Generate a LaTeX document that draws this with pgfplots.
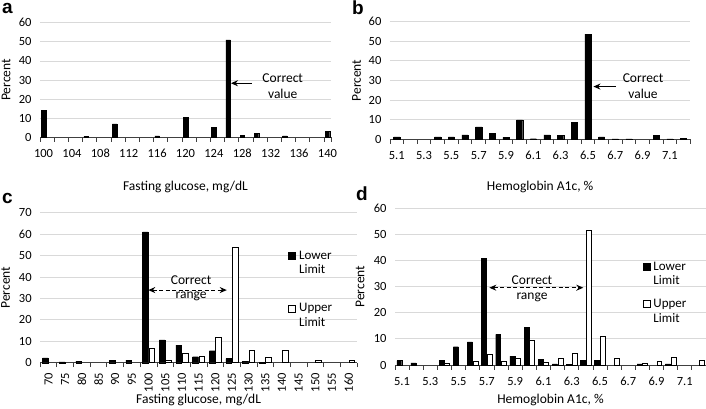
\documentclass[border=0pt]{standalone}
\usepackage{pgfplots}
\pgfplotsset{compat=1.18}
\usepackage{fontspec}
\setmainfont{Carlito}
\newfontfamily\letterfont{Liberation Sans}
\usetikzlibrary{arrows.meta}

\definecolor{gridgray}{HTML}{D9D9D9}
\definecolor{axisgray}{HTML}{404040}

\newcommand{\tickfont}{\fontsize{12.5}{14}\selectfont}
\newcommand{\labfont}{\fontsize{13.5}{14.7}\selectfont}
\newcommand{\legfont}{\fontsize{13}{14.7}\selectfont}
\newcommand{\panfont}{\letterfont\bfseries\fontsize{19}{21}\selectfont}

\tikzset{
  arr/.style={-{Stealth[length=7pt,width=6pt]}, line width=1.2pt},
  darr/.style={{Stealth[length=7pt,width=6pt]}-{Stealth[length=7pt,width=6pt]}, line width=1.1pt, dash pattern=on 4pt off 2.5pt},
}

\pgfplotsset{
  panel/.style={
    scale only axis,
    anchor=south west,
    ybar,
    enlargelimits=false,
    axis x line*=bottom,
    axis y line*=left,
    y axis line style={draw=none},
    x axis line style={-, draw=axisgray, line width=0.8pt},
    ymin=0,
    ymajorgrids,
    major grid style={draw=gridgray, line width=0.8pt},
    ytick style={draw=none},
    major tick length=0pt,
    minor tick length=4.5pt,
    xtick align=outside,
    minor x tick style={draw=axisgray, line width=0.8pt},
    tick label style={font=\tickfont},
    label style={font=\labfont},
    /pgf/number format/assume math mode=true,
    yticklabel shift=5pt,
    ylabel={Percent},
    ylabel style={anchor=center},
    xlabel style={anchor=center},
    clip=false,
  },
  blackbar/.style={fill=black, draw=black, line width=0.4pt},
  whitebar/.style={fill=white, draw=black, line width=0.7pt},
  sqlegend/.style={legend image code/.code={\draw[##1, line width=0.7pt] (0pt,3.8pt) rectangle (7pt,10.8pt);}},
}

\begin{document}
\begin{tikzpicture}
\useasboundingbox (0,0) rectangle (706pt,-409pt);

% ---------------- panel a ----------------
\node[anchor=base west, font=\panfont, inner sep=0pt] at (2pt,-14pt) {a};
\begin{axis}[panel,
  at={(40pt,-137.3pt)}, width=291pt, height=114.6pt,
  xmin=-0.5, xmax=40.5, ymax=60, ytick={0,10,...,60},
  xtick={0,4,...,40},
  xticklabels={100,104,108,112,116,120,124,128,132,136,140},
  minor xtick={-0.5,1.5,3.5,5.5,7.5,9.5,11.5,13.5,15.5,17.5,19.5,21.5,23.5,25.5,27.5,29.5,31.5,33.5,35.5,37.5,39.5,40.5},
  xticklabel shift=8.5pt,
  bar width=0.64,
  xlabel={Fasting glucose, mg/dL},
  xlabel style={at={(rel axis cs:0.5,-0.432)}},
  ylabel style={at={(rel axis cs:-0.1168,0.5)}},
]
\addplot[blackbar] coordinates {(0,14) (6,0.5) (10,7) (16,0.8) (20,10.5) (24,5.2) (26,51) (28,1.2) (30,2.2) (34,0.8) (40,3)};
\draw[arr] (axis cs:29.3,28.3) -- (axis cs:26.4,28.3);
\node[font=\labfont] at (axis cs:33.7,31.2) {Correct};
\node[font=\labfont] at (axis cs:33.7,22.7) {value};
\end{axis}

% ---------------- panel b ----------------
\node[anchor=base west, font=\panfont, inner sep=0pt] at (352pt,-15pt) {b};
\begin{axis}[panel,
  at={(389.9pt,-139.3pt)}, width=300.5pt, height=117.6pt,
  xmin=-0.5, xmax=21.5, ymax=60, ytick={0,10,...,60},
  xtick={0,2,...,20},
  xticklabels={5.1,5.3,5.5,5.7,5.9,6.1,6.3,6.5,6.7,6.9,7.1},
  minor xtick={-0.5,0.5,...,21.5},
  xticklabel shift=8.5pt,
  bar width=0.45,
  xlabel={Hemoglobin A1c, \%},
  xlabel style={at={(rel axis cs:0.5,-0.4056)}},
  ylabel style={at={(rel axis cs:-0.1112,0.5)}},
]
\addplot[blackbar] coordinates {(0,1.2) (3,1.2) (4,1.2) (5,2.2) (6,6.3) (7,3.1) (8,1.0) (9,9.9) (10,0.3) (11,2.2) (12,1.9) (13,8.5) (14,53.7) (15,1.2) (16,0.2) (17,0.2) (19,1.9) (20,0.2) (21,0.6)};
\draw[arr] (axis cs:16.05,26.9) -- (axis cs:14.4,26.9);
\node[font=\labfont] at (axis cs:18.03,31.4) {Correct};
\node[font=\labfont] at (axis cs:18.03,23.1) {value};
\end{axis}

% ---------------- panel c ----------------
\node[anchor=base west, font=\panfont, inner sep=0pt] at (2pt,-203pt) {c};
\begin{axis}[panel,
  at={(40.2pt,-362.7pt)}, width=316.8pt, height=150pt,
  xmin=-0.5, xmax=18.5, ymax=70, ytick={0,10,...,70},
  xtick={0,1,...,18},
  xticklabels={70,75,80,85,90,95,100,105,110,115,120,125,130,135,140,145,150,155,160},
  minor xtick={-0.5,0.5,...,18.5},
  xticklabel style={rotate=90, anchor=east},
  xticklabel shift=7pt,
  bar width=0.34,
  xlabel={Fasting glucose, mg/dL},
  xlabel style={at={(rel axis cs:0.5,-0.248)}},
  ylabel style={at={(rel axis cs:-0.109,0.5)}},
  legend style={draw=none, fill=none, at={(rel axis cs:0.783,0.753)}, anchor=north west,
    font=\legfont, row sep=26pt, column sep=2pt, inner sep=0pt,
    cells={align=left}, nodes={inner sep=1pt}},
  legend cell align=left,
]
\addplot[blackbar, bar shift=-0.19, sqlegend] coordinates {(0,2.3) (1,0.4) (2,0.7) (4,1.2) (5,1.2) (6,61.1) (7,10.6) (8,8.2) (9,2.8) (10,5.6) (11,1.9) (12,0.5) (13,0.2)};
\addlegendentry{Lower\\Limit}
\addplot[whitebar, bar shift=0.19, sqlegend] coordinates {(6,6.7) (7,1.2) (8,4.4) (9,2.8) (10,11.8) (11,53.7) (12,5.8) (13,2.5) (14,5.8) (16,1.2) (18,1.2)};
\addlegendentry{Upper\\Limit}
\draw[darr] (axis cs:5.98,33.9) -- (axis cs:10.69,33.9);
\node[font=\labfont] at (axis cs:8.55,38.6) {Correct};
\node[font=\labfont] at (axis cs:8.55,30.8) {range};
\end{axis}

% ---------------- panel d ----------------
\node[anchor=base west, font=\panfont, inner sep=0pt] at (356pt,-200pt) {d};
\begin{axis}[panel,
  at={(395pt,-365pt)}, width=311pt, height=156.7pt,
  xmin=-0.5, xmax=21.5, ymax=60, ytick={0,10,...,60},
  xtick={0,2,...,20},
  xticklabels={5.1,5.3,5.5,5.7,5.9,6.1,6.3,6.5,6.7,6.9,7.1},
  minor xtick={-0.5,0.5,...,21.5},
  xticklabel shift=9pt,
  bar width=0.35,
  xlabel={Hemoglobin A1c, \%},
  xlabel style={at={(rel axis cs:0.5,-0.222)}},
  ylabel style={at={(rel axis cs:-0.1125,0.5)}},
  legend style={draw=none, fill=none, at={(rel axis cs:0.796,0.667)}, anchor=north west,
    font=\legfont, row sep=11pt, column sep=2pt, inner sep=0pt,
    cells={align=left}, nodes={inner sep=1pt}},
  legend cell align=left,
]
\addplot[blackbar, bar shift=-0.2, sqlegend] coordinates {(0,1.7) (1,0.8) (3,1.8) (4,7.0) (5,8.9) (6,40.9) (7,11.7) (8,3.4) (9,14.5) (10,2.2) (11,0.4) (12,0.3) (13,1.8) (14,1.8) (17,0.4) (19,0.4)};
\addlegendentry{Lower\\Limit}
\addplot[whitebar, bar shift=0.2, sqlegend] coordinates {(3,0.5) (5,1.5) (6,4.2) (7,1.5) (8,2.6) (9,9.6) (10,1.0) (11,2.4) (12,4.5) (13,51.5) (14,10.9) (15,2.4) (17,0.8) (18,1.4) (19,2.9) (21,1.8)};
\addlegendentry{Upper\\Limit}
\draw[darr] (axis cs:6.17,29.6) -- (axis cs:12.82,29.6);
\node[font=\labfont] at (axis cs:9.19,32.6) {Correct};
\node[font=\labfont] at (axis cs:9.19,26.0) {range};
\end{axis}
\end{tikzpicture}
\end{document}
